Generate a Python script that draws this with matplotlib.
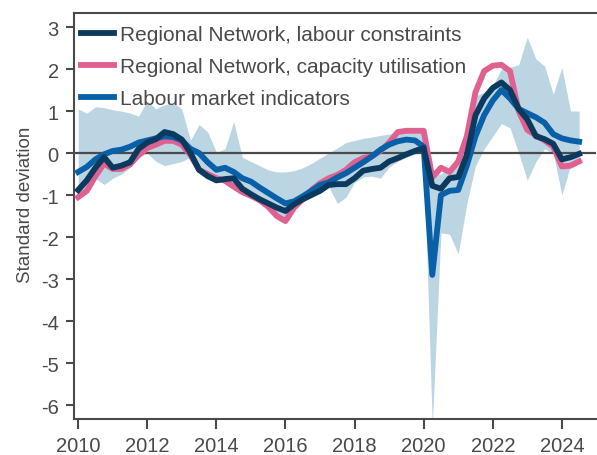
import numpy as np
import matplotlib
matplotlib.use('Agg')
import matplotlib.pyplot as plt

plt.rcParams['font.family'] = ['Liberation Sans', 'DejaVu Sans']
plt.rcParams['axes.unicode_minus'] = False

# quarterly points, 2010 Q1 to mid 2024
years = 2010 + np.arange(59) * 0.25

labour_constraints = [
    -0.88, -0.65, -0.35, -0.10, -0.35, -0.30, -0.22, 0.10,
    0.25, 0.33, 0.50, 0.45, 0.32, 0.00, -0.40, -0.55,
    -0.65, -0.62, -0.60, -0.85, -0.98, -1.10, -1.20, -1.30,
    -1.38, -1.22, -1.10, -1.00, -0.90, -0.76, -0.74, -0.74,
    -0.60, -0.42, -0.38, -0.35, -0.20, -0.12, -0.03, 0.05,
    0.12, -0.78, -0.85, -0.60, -0.57, -0.05, 0.90, 1.30,
    1.55, 1.68, 1.50, 1.05, 0.80, 0.40, 0.33, 0.22,
    -0.15, -0.10, -0.02]

capacity_util = [
    -1.05, -0.90, -0.55, -0.25, -0.38, -0.38, -0.27, -0.05,
    0.12, 0.20, 0.29, 0.29, 0.20, -0.05, -0.40, -0.50,
    -0.60, -0.66, -0.80, -0.93, -1.02, -1.12, -1.28, -1.50,
    -1.62, -1.30, -1.10, -0.88, -0.72, -0.60, -0.52, -0.40,
    -0.22, -0.12, -0.08, 0.05, 0.25, 0.50, 0.53, 0.53,
    0.53, -0.58, -0.35, -0.45, -0.20, 0.40, 1.45, 1.95,
    2.08, 2.10, 1.95, 1.00, 0.55, 0.42, 0.30, 0.15,
    -0.32, -0.30, -0.20]

labour_market = [
    -0.45, -0.33, -0.15, -0.03, 0.05, 0.08, 0.15, 0.25,
    0.30, 0.35, 0.40, 0.38, 0.30, 0.10, 0.00, -0.22,
    -0.40, -0.35, -0.45, -0.60, -0.68, -0.82, -0.95, -1.08,
    -1.20, -1.15, -1.03, -0.90, -0.76, -0.70, -0.58, -0.48,
    -0.35, -0.22, -0.08, 0.08, 0.20, 0.28, 0.32, 0.30,
    0.15, -2.90, -1.00, -0.90, -0.88, -0.30, 0.40, 0.90,
    1.25, 1.50, 1.30, 1.05, 0.95, 0.85, 0.72, 0.45,
    0.35, 0.30, 0.27]

band_high = [
    1.05, 0.95, 1.10, 1.08, 1.03, 1.00, 0.95, 0.88,
    1.24, 1.05, 1.15, 1.20, 1.05, 0.30, 0.68, 0.50,
    0.02, 0.10, 0.75, -0.10, -0.20, -0.30, -0.40, -0.45,
    -0.45, -0.42, -0.35, -0.25, -0.12, 0.00, 0.12, 0.25,
    0.30, 0.35, 0.38, 0.42, 0.45, 0.50, 0.55, 0.57,
    0.60, -0.50, -0.50, -0.35, -0.10, 0.60, 1.36, 1.45,
    1.60, 2.00, 2.04, 2.10, 2.76, 2.24, 2.07, 1.40,
    2.04, 1.00, 1.00]

band_low = [
    -0.95, -0.85, -0.60, -0.75, -0.60, -0.50, -0.35, -0.10,
    0.00, -0.20, -0.30, -0.25, -0.20, -0.10, -0.40, -0.50,
    -0.62, -0.66, -0.75, -0.90, -1.00, -1.10, -1.25, -1.48,
    -1.60, -1.30, -1.15, -1.05, -0.93, -0.80, -1.20, -1.05,
    -0.70, -0.57, -0.55, -0.60, -0.33, -0.20, -0.10, -0.02,
    0.00, -6.50, -1.90, -1.93, -2.40, -1.20, -0.30, 0.10,
    0.40, 0.70, 0.60, 0.00, -0.65, -0.20, 0.10, 0.00,
    -1.00, -0.30, -0.10]

grey = '#4a4a4a'

fig = plt.figure(figsize=(5.97, 4.56), dpi=100)
ax = fig.add_axes([0.124, 0.079, 0.875, 0.890])

ax.fill_between(years, band_low, band_high, color='#bcd5e2', lw=0, zorder=1)
ax.axhline(0, color=grey, lw=1.6, zorder=2)
ax.plot(years, labour_constraints, color='#0b3a5e', lw=4.2,
        label='Regional Network, labour constraints', zorder=4)
ax.plot(years, capacity_util, color='#e0608f', lw=4.2,
        label='Regional Network, capacity utilisation', zorder=3)
ax.plot(years, labour_market, color='#0861a8', lw=4.2,
        label='Labour market indicators', zorder=3.5)

ax.set_xlim(2009.88, 2025.0)
ax.set_ylim(-6.33, 3.33)
ax.set_xticks(range(2010, 2025, 2))
ax.set_yticks(range(-6, 4))
ax.set_ylabel('Standard deviation', fontsize=13.5, color=grey)
ax.yaxis.set_label_coords(-0.077, 0.53)

for s in ['left', 'bottom', 'top']:
    ax.spines[s].set_color(grey)
    ax.spines[s].set_linewidth(1.5)
ax.spines['right'].set_visible(False)
ax.tick_params(direction='out', width=1.5, color=grey,
               labelcolor=grey, labelsize=14.5)
ax.tick_params(axis='x', length=7, pad=5)
ax.tick_params(axis='y', length=6, pad=5)

ax.legend(loc='upper left', bbox_to_anchor=(0.004, 0.983), frameon=False,
          fontsize=15, handlelength=1.55, handletextpad=0.3,
          borderaxespad=0.1, borderpad=0.15, labelcolor=grey,
          labelspacing=0.62)

fig.savefig('out.png', dpi=100)
